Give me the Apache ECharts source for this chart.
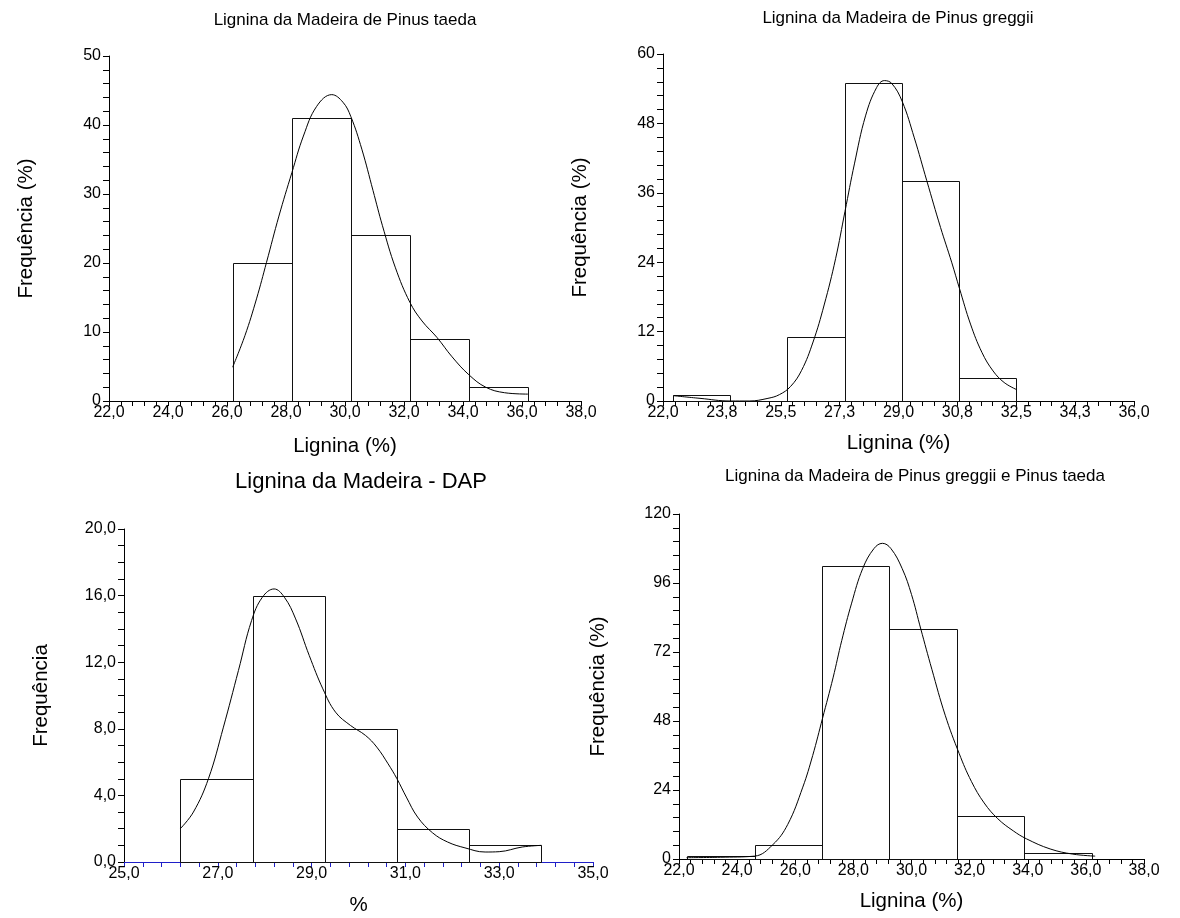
<!DOCTYPE html>
<html>
<head>
<meta charset="utf-8">
<script src="https://cdn.jsdelivr.net/npm/echarts@6/dist/echarts.min.js"></script>
<style>
html,body{margin:0;padding:0;background:#fff;}
#c{width:1180px;height:918px;}
</style>
</head>
<body>
<div id="c"></div>
<script>
// ---------- DATA ----------
// Chart 1: Pinus taeda
const taedaEdges = [26.2, 28.2, 30.2, 32.2, 34.2, 36.2];
const taedaFreq = [20, 41, 24, 9, 2];
const taedaCurveX = [26.19, 26.61, 27.0, 27.34, 27.76, 28.2, 28.59, 29.04, 29.55, 29.93, 30.2, 30.57, 30.95, 31.27, 31.71, 32.2, 32.61, 33.12, 33.63, 34.2, 34.77, 35.41, 36.2];
const taedaCurveY = [4.9, 9.5, 14.8, 20.1, 26.8, 33.1, 38.4, 42.7, 44.4, 43.3, 41.2, 36.5, 30.5, 25.4, 19.3, 14.3, 11.6, 9.2, 6.4, 3.8, 2.0, 1.2, 1.0];
const taedaXTicks = ['22,0', '24,0', '26,0', '28,0', '30,0', '32,0', '34,0', '36,0', '38,0'];
const taedaYTicks = ['0', '10', '20', '30', '40', '50'];

// Chart 2: Pinus greggii
const greggiiEdges = [22.3, 24.0, 25.7, 27.4, 29.1, 30.8, 32.5];
const greggiiFreq = [1, 0, 11, 55, 38, 4];
const greggiiCurveX = [22.31, 23.1, 24.0, 24.56, 25.12, 25.46, 25.79, 26.12, 26.46, 26.79, 27.13, 27.41, 27.69, 28.02, 28.35, 28.58, 28.8, 29.11, 29.47, 29.84, 30.25, 30.58, 30.81, 31.14, 31.48, 31.81, 32.14, 32.5];
const greggiiCurveY = [0.92, 0.46, 0.0, 0.0, 0.46, 1.1, 2.5, 5.3, 10.2, 16.6, 24.6, 32.8, 41.0, 49.3, 54.2, 55.4, 54.9, 51.8, 45.5, 38.1, 30.0, 24.0, 19.5, 13.3, 8.4, 5.2, 3.2, 2.0];
const greggiiXTicks = ['22,0', '23,8', '25,5', '27,3', '29,0', '30,8', '32,5', '34,3', '36,0'];
const greggiiYTicks = ['0', '12', '24', '36', '48', '60'];

// Chart 3: DAP
const dapEdges = [26.2, 27.74, 29.28, 30.82, 32.36, 33.9];
const dapFreq = [5, 16, 8, 2, 1];
const dapCurveX = [26.2, 26.48, 26.8, 27.12, 27.44, 27.72, 27.95, 28.2, 28.42, 28.66, 28.95, 29.24, 29.51, 29.83, 30.15, 30.39, 30.63, 30.82, 31.02, 31.26, 31.58, 31.9, 32.27, 32.7, 33.0, 33.49, 33.9];
const dapCurveY = [2.0, 3.0, 5.0, 8.1, 11.5, 14.5, 15.9, 16.4, 15.9, 14.6, 12.4, 10.4, 9.0, 8.2, 7.6, 6.9, 5.9, 5.0, 3.9, 2.7, 1.75, 1.2, 0.85, 0.6, 0.62, 0.9, 1.0];
const dapXTicks = ['25,0', '27,0', '29,0', '31,0', '33,0', '35,0'];
const dapYTicks = ['0,0', '4,0', '8,0', '12,0', '16,0', '20,0'];

// Chart 4: Pinus greggii e Pinus taeda
const bothEdges = [22.28, 24.6, 26.92, 29.24, 31.56, 33.88, 36.2];
const bothFreq = [1, 5, 102, 80, 15, 2];
const bothCurveX = [22.26, 23.42, 24.6, 25.23, 25.74, 26.26, 26.6, 26.94, 27.3, 27.6, 27.94, 28.32, 28.71, 29.0, 29.29, 29.68, 30.0, 30.32, 30.7, 31.16, 31.64, 32.06, 32.5, 32.97, 33.5, 33.96, 34.77, 35.55, 36.32];
const bothCurveY = [0.46, 0.6, 1.0, 5.0, 12.0, 25.0, 36.0, 49.0, 63.0, 76.0, 89.0, 101.0, 108.0, 109.8, 108.0, 101.0, 92.0, 80.0, 66.0, 50.0, 36.7, 27.0, 19.5, 14.0, 9.8, 7.0, 3.5, 1.7, 1.0];
const bothXTicks = ['22,0', '24,0', '26,0', '28,0', '30,0', '32,0', '34,0', '36,0', '38,0'];
const bothYTicks = ['0', '24', '48', '72', '96', '120'];

const titles = [
  'Lignina da Madeira de Pinus taeda',
  'Lignina da Madeira de Pinus greggii',
  'Lignina da Madeira - DAP',
  'Lignina da Madeira de Pinus greggii e Pinus taeda'
];
const xNames = ['Lignina (%)', 'Lignina (%)', '%', 'Lignina (%)'];
const yNames = ['Frequência (%)', 'Frequência (%)', 'Frequência', 'Frequência (%)'];

// ---------- BUILD ----------
const FONT = "'Liberation Sans', Arial, Helvetica, sans-serif";

function histData(edges, freq) {
  return freq.map((f, i) => [edges[i], edges[i + 1], f]);
}
function curveData(xs, ys) {
  return xs.map((x, i) => [x, ys[i]]);
}

const panels = [
  { edges: taedaEdges, freq: taedaFreq, cx: taedaCurveX, cy: taedaCurveY, xt: taedaXTicks, yt: taedaYTicks,
    xmin: 22, xmax: 38, xint: 2, ymax: 50, yint: 10, ySplit: 5, axisColor: '#000',
    grid: { left: 109, top: 56, width: 472, height: 345 },
    title: { x: 345, y: 20, size: 17 }, yGap: 72, xGap: 35 },
  { edges: greggiiEdges, freq: greggiiFreq, cx: greggiiCurveX, cy: greggiiCurveY, xt: greggiiXTicks, yt: greggiiYTicks,
    xmin: 22, xmax: 36, xint: 1.75, ymax: 60, yint: 12, ySplit: 5, axisColor: '#000',
    grid: { left: 663, top: 54, width: 471, height: 347 },
    title: { x: 898, y: 18.5, size: 17 }, yGap: 72, xGap: 32 },
  { edges: dapEdges, freq: dapFreq, cx: dapCurveX, cy: dapCurveY, xt: dapXTicks, yt: dapYTicks,
    xmin: 25, xmax: 35, xint: 2, ymax: 20, yint: 4, ySplit: 4, axisColor: '#1f1fc8',
    grid: { left: 124, top: 529, width: 469, height: 333 },
    title: { x: 361, y: 481.5, size: 22 }, yGap: 72, xGap: 33 },
  { edges: bothEdges, freq: bothFreq, cx: bothCurveX, cy: bothCurveY, xt: bothXTicks, yt: bothYTicks,
    xmin: 22, xmax: 38, xint: 2, ymax: 120, yint: 24, ySplit: 5, axisColor: '#000',
    grid: { left: 679, top: 514, width: 465, height: 345 },
    title: { x: 915, y: 476.5, size: 17 }, yGap: 70, xGap: 32 }
];

const option = {
  animation: false,
  backgroundColor: '#fff',
  title: [], grid: [], xAxis: [], yAxis: [], series: []
};

panels.forEach((p, i) => {
  option.title.push({
    text: titles[i], left: p.title.x, top: p.title.y, textAlign: 'center', textVerticalAlign: 'middle', padding: 0,
    textStyle: { fontFamily: FONT, fontSize: p.title.size, fontWeight: 'normal', color: '#000' }
  });
  option.grid.push(Object.assign({ containLabel: false }, p.grid));
  option.xAxis.push({
    type: 'value', gridIndex: i, min: p.xmin, max: p.xmax, interval: p.xint,
    name: xNames[i], nameLocation: 'middle', nameGap: p.xGap,
    nameTextStyle: { fontFamily: FONT, fontSize: 20.5, color: '#000' },
    axisLine: { show: true, onZero: false, lineStyle: { color: p.axisColor, width: 1 } },
    axisTick: { show: true, length: 5, lineStyle: { color: p.axisColor } },
    minorTick: { show: true, splitNumber: 5, length: 5, lineStyle: { color: p.axisColor } },
    splitLine: { show: false },
    axisLabel: { fontFamily: FONT, fontSize: 16, color: '#000', margin: 4,
      formatter: (v, idx) => p.xt[Math.round((v - p.xmin) / p.xint)] },
  });
  option.yAxis.push({
    type: 'value', gridIndex: i, min: 0, max: p.ymax, interval: p.yint,
    name: yNames[i], nameLocation: 'middle', nameGap: p.yGap,
    nameTextStyle: { fontFamily: FONT, fontSize: 20.5, color: '#000' },
    axisLine: { show: true, lineStyle: { color: '#000', width: 1 } },
    axisTick: { show: true, length: 6, lineStyle: { color: '#000' } },
    minorTick: { show: true, splitNumber: p.ySplit, length: 6, lineStyle: { color: '#000' } },
    splitLine: { show: false },
    axisLabel: { fontFamily: FONT, fontSize: 16, color: '#000', margin: 8,
      formatter: (v) => p.yt[Math.round(v / p.yint)] },
  });
  option.series.push({
    type: 'custom', xAxisIndex: i, yAxisIndex: i, z: 2,
    data: histData(p.edges, p.freq),
    encode: { x: [0, 1], y: 2 },
    renderItem: function (params, api) {
      const a = api.coord([api.value(0), 0]);
      const b = api.coord([api.value(1), api.value(2)]);
      const x0 = Math.round(a[0]) + 0.5, x1 = Math.round(b[0]) + 0.5;
      const y0 = Math.round(a[1]) + 0.5, y1 = Math.round(b[1]) + 0.5;
      return {
        type: 'rect',
        shape: { x: x0, y: y1, width: x1 - x0, height: y0 - y1 },
        style: { fill: 'rgba(255,255,255,0)', stroke: '#111', lineWidth: 1 }
      };
    }
  });
  option.series.push({
    type: 'line', xAxisIndex: i, yAxisIndex: i, z: 3,
    data: curveData(p.cx, p.cy), smooth: 0.4, showSymbol: false, symbol: 'none',
    lineStyle: { color: '#000', width: 1 }
  });
});

const chart = echarts.init(document.getElementById('c'), null, { renderer: 'canvas' });
chart.setOption(option);
</script>
</body>
</html>
